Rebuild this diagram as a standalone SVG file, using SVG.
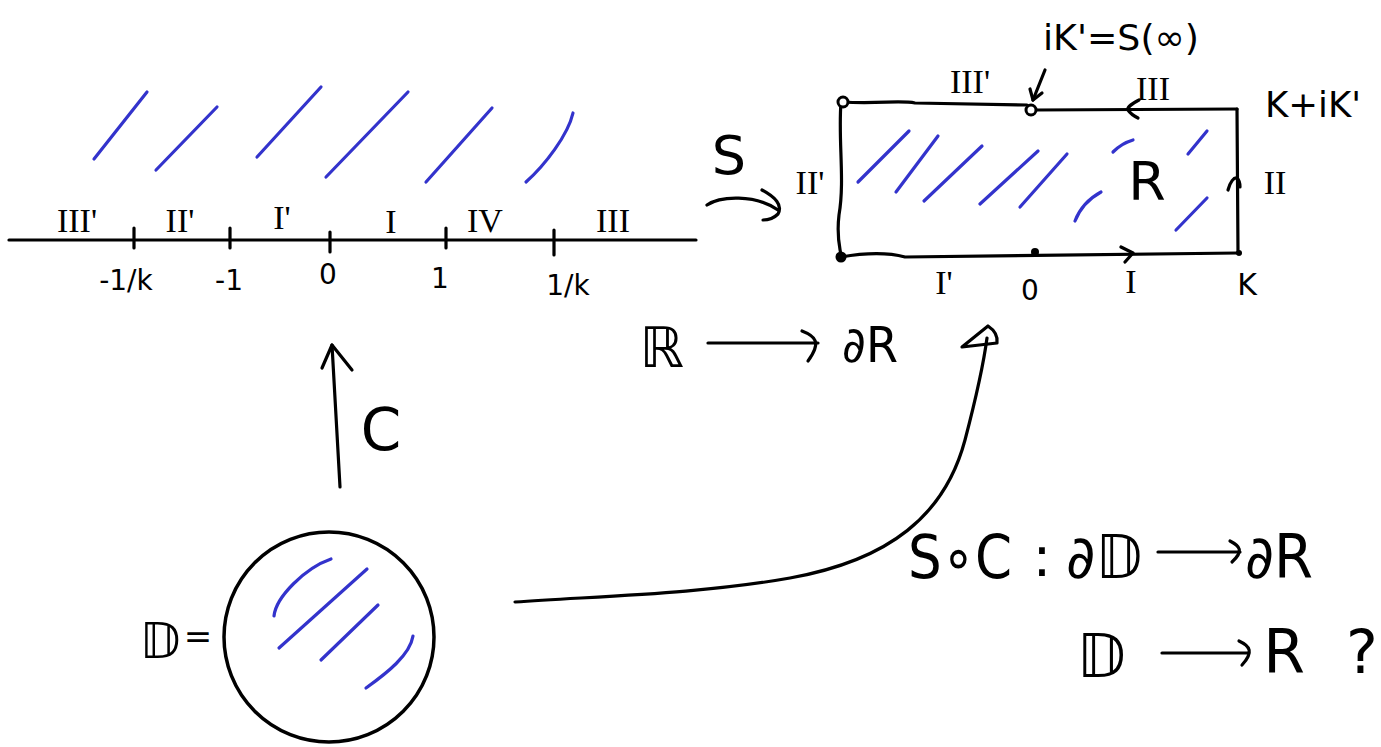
<svg xmlns="http://www.w3.org/2000/svg" width="1381" height="747" viewBox="0 0 1381 747">
<style>
.k{fill:none;stroke:#000;stroke-width:3.2;stroke-linecap:round;stroke-linejoin:round}
.b{fill:none;stroke:#3333cc;stroke-width:3.2;stroke-linecap:round;stroke-linejoin:round}
.t{font-family:"DejaVu Sans","Liberation Sans",sans-serif;fill:#000}
.r{font-family:"Liberation Serif","DejaVu Serif",serif;fill:#000}
.m{font-size:28px;text-anchor:middle}
</style>
<rect width="1381" height="747" fill="#fff"/>

<g id="real-line">
  <path class="k" d="M9,240 L696,240"/>
  <path class="k" d="M134,228 L134,248 M230,228 L230,248 M330,232 L330,252 M446,228 L446,248 M554,230 L554,255"/>
  <g class="b">
    <path d="M94,159 L147,92"/>
    <path d="M156,170 L217,107"/>
    <path d="M257,157 L321,87"/>
    <path d="M326,177 L408,92"/>
    <path d="M426,182 L492,108"/>
    <path d="M526,182 C545,165 568,135 573,113"/>
  </g>
  <g class="r" font-size="34" text-anchor="middle">
    <text x="77" y="232">III'</text>
    <text x="180" y="232">II'</text>
    <text x="282" y="229">I'</text>
    <text x="391" y="233">I</text>
    <text x="485" y="232">IV</text>
    <text x="613" y="232">III</text>
  </g>
  <g class="t m">
    <text x="126" y="290">-1/k</text>
    <text x="229" y="290">-1</text>
    <text x="328" y="284">0</text>
    <text x="440" y="288">1</text>
    <text x="568" y="295">1/k</text>
  </g>
</g>

<g id="rectangle">
  <path class="k" d="M842,102 C880,104 900,100 915,103 L1027,105"/>
  <path class="k" d="M1035,110 L1237,109"/>
  <path class="k" d="M1237,109 L1238,253"/>
  <path class="k" d="M841,257 C870,252 890,253 905,257 L1238,253"/>
  <path class="k" d="M841,102 C838,140 845,180 839,215 C836,240 841,250 841,257"/>
  <circle cx="843" cy="102" r="5" fill="#fff" stroke="#000" stroke-width="3"/>
  <circle cx="1031" cy="110" r="5" fill="#fff" stroke="#000" stroke-width="3"/>
  <circle cx="841" cy="257" r="5.5" fill="#000"/>
  <circle cx="1035" cy="252" r="4" fill="#000"/>
  <circle cx="1239" cy="253" r="3" fill="#000"/>
  <path class="k" d="M1139,100 C1131,104 1127,108 1128,110 C1130,113 1134,116 1138,118"/>
  <path class="k" d="M1121,247 L1133,253 L1125,262"/>
  <path class="k" d="M1228,190 C1230,182 1234,177 1237,178 C1239,180 1240,184 1240,187"/>
  <g class="b">
    <path d="M858,182 L909,131"/>
    <path d="M896,192 L938,136"/>
    <path d="M924,201 L982,146"/>
    <path d="M980,204 L1038,151"/>
    <path d="M1020,207 L1067,154"/>
    <path d="M1075,221 C1080,208 1090,198 1101,192"/>
    <path d="M1113,152 C1119,146 1126,142 1133,140"/>
    <path d="M1188,154 L1207,131"/>
    <path d="M1176,230 L1207,198"/>
  </g>
  <g class="r" font-size="34" text-anchor="middle">
    <text x="970" y="93">III'</text>
    <text x="1153" y="100">III</text>
    <text x="810" y="194">II'</text>
    <text x="1275" y="194">II</text>
    <text x="944" y="294">I'</text>
    <text x="1131" y="293">I</text>
  </g>
  <text class="t" x="1043" y="50" font-size="36" textLength="156" lengthAdjust="spacingAndGlyphs">iK'=S(∞)</text>
  <text class="t" x="1265" y="117" font-size="36" textLength="96" lengthAdjust="spacingAndGlyphs">K+iK'</text>
  <text class="t" x="1147" y="200" font-size="54" text-anchor="middle">R</text>
  <text class="t" x="1030" y="300" font-size="28" text-anchor="middle">0</text>
  <text class="t" x="1247" y="295" font-size="30" text-anchor="middle">K</text>
</g>

<g id="disk">
  <circle cx="329" cy="637" r="105" fill="none" stroke="#000" stroke-width="3.5"/>
  <g class="b">
    <path d="M274,616 C276,597 305,568 331,559"/>
    <path d="M279,648 L367,569"/>
    <path d="M321,660 L378,605"/>
    <path d="M366,688 C387,673 410,655 413,636"/>
  </g>
  <text class="t" x="160" y="658" font-size="50" text-anchor="middle">𝔻</text>
  <text class="t" x="198" y="648" font-size="34" text-anchor="middle">=</text>
</g>

<g id="labels">
  <text class="t" x="729" y="174" font-size="54" text-anchor="middle">S</text>
  <text class="t" x="381" y="450" font-size="58" text-anchor="middle">C</text>
  <text class="t" x="662" y="367" font-size="56" text-anchor="middle">ℝ</text>
  <text class="t" x="842" y="362" font-size="50" textLength="56" lengthAdjust="spacingAndGlyphs">∂R</text>
</g>

<g id="formulas">
  <text class="t" x="908" y="578" font-size="60" textLength="104" lengthAdjust="spacingAndGlyphs">S∘C</text>
  <text class="t" x="1042" y="576" font-size="56" text-anchor="middle">:</text>
  <text class="t" x="1066" y="578" font-size="60" textLength="76" lengthAdjust="spacingAndGlyphs">∂𝔻</text>
  <text class="t" x="1245" y="578" font-size="60" textLength="68" lengthAdjust="spacingAndGlyphs">∂R</text>
  <text class="t" x="1101" y="677" font-size="60" text-anchor="middle">𝔻</text>
  <text class="t" x="1284" y="673" font-size="60" text-anchor="middle">R</text>
  <text class="t" x="1362" y="673" font-size="60" text-anchor="middle">?</text>
</g>

<g id="connectors">
  <path class="k" d="M707,205 C720,196 755,194 778,210"/>
  <path class="k" d="M762,190 C775,197 783,205 778,214 C774,218 768,220 763,220"/>
  <path class="k" d="M708,343 L818,343"/>
  <path class="k" d="M802,331 C815,336 822,342 808,361"/>
  <path class="k" d="M340,487 L332,345"/>
  <path class="k" d="M322,368 L332,345 L352,370"/>
  <path class="k" d="M515,602 C600,596 700,594 790,578 C890,560 945,515 965,440 C976,398 983,368 987,338"/>
  <path class="k" d="M962,347 L988,326 C994,330 998,336 997,343 Z"/>
  <path class="k" d="M1045,70 L1033,100"/>
  <path class="k" d="M1030,89 L1033,100 L1042,93"/>
  <path class="k" d="M1158,552 L1240,552"/>
  <path class="k" d="M1230,541 C1240,546 1244,551 1232,562"/>
  <path class="k" d="M1162,653 L1248,653"/>
  <path class="k" d="M1239,641 C1250,646 1254,652 1242,665"/>
</g>
</svg>
